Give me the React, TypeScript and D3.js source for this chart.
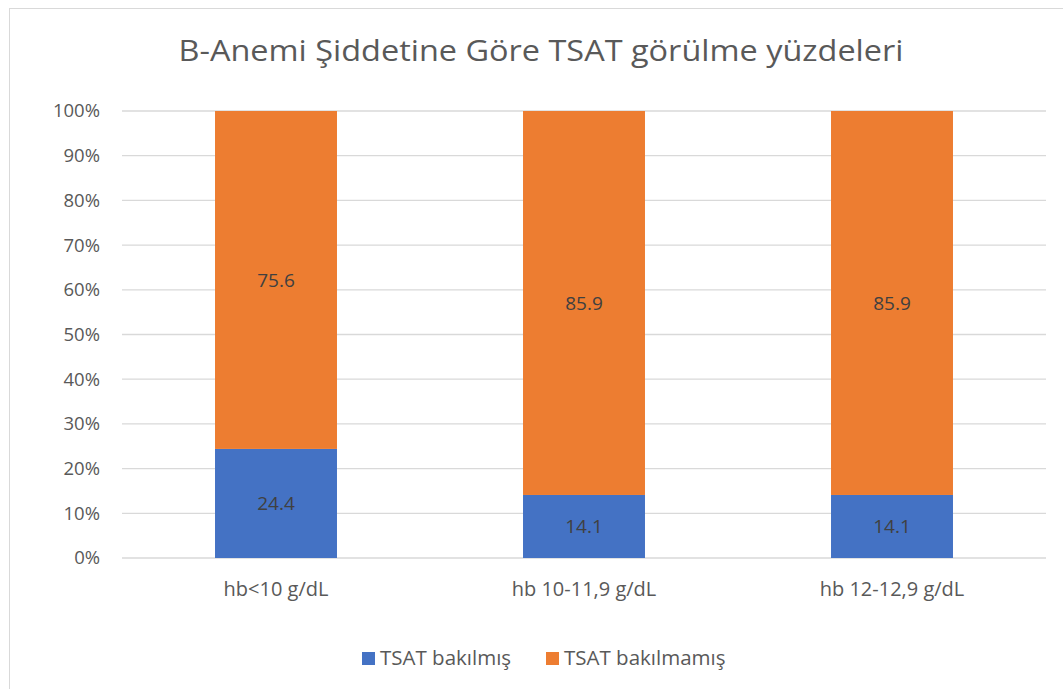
import React, { useEffect, useRef } from 'react';
import { select, scaleBand, scaleLinear, stack } from 'd3';

const categories = ['hb<10 g/dL', 'hb 10-11,9 g/dL', 'hb 12-12,9 g/dL'];
const seriesNames = ['TSAT bakılmış', 'TSAT bakılmamış'];
const bakilmis = [24.4, 14.1, 14.1];
const bakilmamis = [75.6, 85.9, 85.9];
const yTicks = [0, 10, 20, 30, 40, 50, 60, 70, 80, 90, 100];
const colors = ['#4472C4', '#ED7D31'];

const App = () => {
  const svgRef = useRef<SVGSVGElement>(null);

  useEffect(() => {
    const width = 1063;
    const height = 689;
    const font = '"Open Sans", sans-serif';

    const svg = select(svgRef.current);
    svg.selectAll('*').remove();
    svg.attr('width', width).attr('height', height).style('font-family', font);

    // outer chart border
    svg.append('rect')
      .attr('x', 9.5).attr('y', 8.5)
      .attr('width', width).attr('height', height)
      .attr('fill', '#fff')
      .attr('stroke', '#d9d9d9');

    const x = scaleBand()
      .domain(categories)
      .range([122, 1046])
      .paddingInner(0.604)
      .paddingOuter(0.302);

    const y = scaleLinear().domain([0, 100]).range([558, 111]);

    // gridlines
    svg.append('g').selectAll('line')
      .data(yTicks)
      .enter().append('line')
      .attr('x1', 122).attr('x2', 1046)
      .attr('y1', d => y(d)).attr('y2', d => y(d))
      .attr('stroke', '#d9d9d9')
      .attr('stroke-width', 1.3);

    // y tick labels
    svg.append('g').selectAll('text')
      .data(yTicks)
      .enter().append('text')
      .attr('x', 100)
      .attr('y', d => y(d))
      .attr('dy', '0.35em')
      .attr('text-anchor', 'end')
      .attr('fill', '#595959')
      .style('font-size', '18.5px')
      .text(d => `${d}%`);

    const rows = categories.map((c, i) => ({ cat: c, a: bakilmis[i], b: bakilmamis[i] }));
    const stacked = stack<any>().keys(['a', 'b'])(rows);

    const layers = svg.append('g').selectAll('g')
      .data(stacked)
      .enter().append('g')
      .attr('fill', (d, i) => colors[i]);

    layers.selectAll('rect')
      .data(d => d)
      .enter().append('rect')
      .attr('x', d => x(d.data.cat)!)
      .attr('width', x.bandwidth())
      .attr('y', d => y(d[1]))
      .attr('height', d => y(d[0]) - y(d[1]));

    // data labels
    stacked.forEach(layer => {
      svg.append('g').selectAll('text')
        .data(layer)
        .enter().append('text')
        .attr('x', d => x(d.data.cat)! + x.bandwidth() / 2)
        .attr('y', d => y((d[0] + d[1]) / 2))
        .attr('dy', '0.35em')
        .attr('text-anchor', 'middle')
        .attr('fill', '#404040')
        .style('font-size', '19px')
        .text(d => String(layer.key === 'a' ? d.data.a : d.data.b));
    });

    // category labels
    svg.append('g').selectAll('text')
      .data(categories)
      .enter().append('text')
      .attr('x', d => x(d)! + x.bandwidth() / 2)
      .attr('y', 589)
      .attr('dy', '0.35em')
      .attr('text-anchor', 'middle')
      .attr('fill', '#595959')
      .style('font-size', '20px')
      .text(d => d);

    // title
    svg.append('text')
      .attr('x', 541)
      .attr('y', 51)
      .attr('dy', '0.35em')
      .attr('text-anchor', 'middle')
      .attr('fill', '#595959')
      .attr('textLength', 725)
      .attr('lengthAdjust', 'spacingAndGlyphs')
      .style('font-size', '29px')
      .text('B-Anemi Şiddetine Göre TSAT görülme yüzdeleri');

    // legend
    const legendX = [362, 546];
    const legend = svg.append('g').selectAll('g')
      .data(seriesNames)
      .enter().append('g')
      .attr('transform', (d, i) => `translate(${legendX[i]}, 665)`);
    legend.append('rect')
      .attr('x', 0).attr('y', -13)
      .attr('width', 13).attr('height', 13)
      .attr('fill', (d, i) => colors[i]);
    legend.append('text')
      .attr('x', 18)
      .attr('y', 0)
      .attr('fill', '#595959')
      .style('font-size', '20.5px')
      .text(d => d);
  }, []);

  return <svg ref={svgRef} style={{ position: 'absolute', left: 0, top: 0 }} />;
};

export default App;
